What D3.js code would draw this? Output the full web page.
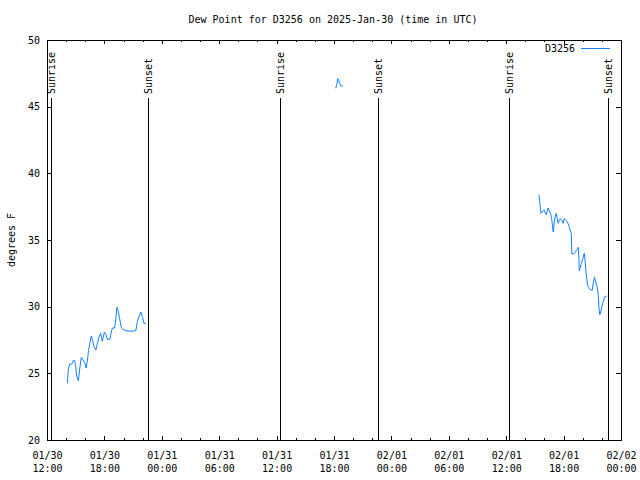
<!DOCTYPE html>
<html>
<head>
<meta charset="utf-8">
<script src="https://cdn.jsdelivr.net/npm/d3@7"></script>
<style>
  html, body { margin: 0; padding: 0; background: #fff; }
  svg text { font-family: "DejaVu Sans Mono", monospace; font-size: 10px; fill: #000; }
</style>
</head>
<body>
<svg id="chart" width="640" height="480"></svg>
<script>
// ---- data ----
const title = "Dew Point for D3256 on 2025-Jan-30 (time in UTC)";
const yLabel = "degrees F";
const seriesName = "D3256";

const times = [
  // 01/30 afternoon
  "2025-01-30 14:08","2025-01-30 14:14","2025-01-30 14:23","2025-01-30 14:35","2025-01-30 14:48",
  "2025-01-30 14:54","2025-01-30 15:00","2025-01-30 15:06","2025-01-30 15:17","2025-01-30 15:25",
  "2025-01-30 15:35","2025-01-30 15:46","2025-01-30 15:57","2025-01-30 16:05","2025-01-30 16:13",
  "2025-01-30 16:19","2025-01-30 16:28","2025-01-30 16:38","2025-01-30 16:45","2025-01-30 16:55",
  "2025-01-30 17:06","2025-01-30 17:16","2025-01-30 17:27","2025-01-30 17:37","2025-01-30 17:47",
  "2025-01-30 18:00","2025-01-30 18:09","2025-01-30 18:19","2025-01-30 18:34","2025-01-30 18:42",
  "2025-01-30 18:50","2025-01-30 19:03","2025-01-30 19:09","2025-01-30 19:18","2025-01-30 19:26",
  "2025-01-30 19:34","2025-01-30 19:47","2025-01-30 19:57","2025-01-30 20:14","2025-01-30 20:45",
  "2025-01-30 21:17","2025-01-30 21:27","2025-01-30 21:38","2025-01-30 21:49","2025-01-30 21:59",
  "2025-01-30 22:08","2025-01-30 22:20",
  // 01/31 short burst
  "2025-01-31 18:11","2025-01-31 18:16","2025-01-31 18:24","2025-01-31 18:30","2025-01-31 18:35",
  "2025-01-31 18:43","2025-01-31 18:55",
  // 02/01 afternoon
  "2025-02-01 15:25","2025-02-01 15:29","2025-02-01 15:35","2025-02-01 15:39","2025-02-01 15:46",
  "2025-02-01 15:52","2025-02-01 15:58","2025-02-01 16:04","2025-02-01 16:11","2025-02-01 16:17",
  "2025-02-01 16:23","2025-02-01 16:29","2025-02-01 16:38","2025-02-01 16:45","2025-02-01 16:51",
  "2025-02-01 16:55","2025-02-01 17:01","2025-02-01 17:07","2025-02-01 17:14","2025-02-01 17:20",
  "2025-02-01 17:26","2025-02-01 17:32","2025-02-01 17:39","2025-02-01 17:45","2025-02-01 17:51",
  "2025-02-01 17:57","2025-02-01 18:04","2025-02-01 18:10","2025-02-01 18:16","2025-02-01 18:23",
  "2025-02-01 18:29","2025-02-01 18:35","2025-02-01 18:41","2025-02-01 18:48","2025-02-01 18:52",
  "2025-02-01 19:00","2025-02-01 19:07","2025-02-01 19:13","2025-02-01 19:19","2025-02-01 19:26",
  "2025-02-01 19:32","2025-02-01 19:36","2025-02-01 19:38","2025-02-01 19:45","2025-02-01 19:51",
  "2025-02-01 19:57","2025-02-01 20:03","2025-02-01 20:09","2025-02-01 20:14","2025-02-01 20:18",
  "2025-02-01 20:25","2025-02-01 20:31","2025-02-01 20:37","2025-02-01 20:44","2025-02-01 20:50",
  "2025-02-01 21:00","2025-02-01 21:06","2025-02-01 21:13","2025-02-01 21:19","2025-02-01 21:25",
  "2025-02-01 21:32","2025-02-01 21:38","2025-02-01 21:42","2025-02-01 21:47","2025-02-01 21:53",
  "2025-02-01 21:59","2025-02-01 22:05","2025-02-01 22:12","2025-02-01 22:18","2025-02-01 22:31"
];

const dewPoint = [
  24.25,25.3,25.7,25.7,26.0,
  25.9,25.5,24.8,24.45,25.3,
  26.2,26.0,25.8,25.4,25.9,
  26.55,27.25,27.8,27.5,27.0,
  26.75,27.25,27.75,28.0,27.4,
  28.1,27.9,27.55,27.55,28.0,
  28.4,28.4,28.75,29.95,29.7,
  29.2,28.4,28.3,28.2,28.15,
  28.2,28.9,29.3,29.6,29.2,
  28.75,28.75,
  46.38,46.6,47.1,46.95,46.75,
  46.55,46.55,
  38.4,38.0,37.3,37.0,37.1,
  37.2,37.25,37.05,36.9,37.15,
  37.4,37.2,37.0,36.6,36.0,
  35.6,36.3,36.75,37.0,36.6,
  36.25,36.45,36.6,36.5,36.45,
  36.25,36.6,36.55,36.45,36.35,
  36.2,36.0,35.75,35.5,33.95,
  33.95,34.0,34.05,34.2,34.3,
  34.45,33.6,32.7,32.95,33.25,
  33.45,33.7,34.0,33.6,32.9,
  32.1,31.6,31.45,31.3,31.25,
  31.25,31.75,32.2,32.0,31.7,
  31.4,30.75,29.9,29.4,29.6,
  29.95,30.25,30.5,30.75,30.8
];

const sunTimes = [
  "2025-01-30 12:22","2025-01-30 22:33",
  "2025-01-31 12:21","2025-01-31 22:35",
  "2025-02-01 12:20","2025-02-01 22:41"
];
const sunLabels = ["Sunrise","Sunset","Sunrise","Sunset","Sunrise","Sunset"];

const xDomain = ["2025-01-30 12:00", "2025-02-02 00:00"];
const yDomain = [20, 50];
const yTickValues = [20, 25, 30, 35, 40, 45, 50];

// ---- drawing ----
const parse = d3.utcParse("%Y-%m-%d %H:%M");
const W = 640, H = 480;
const M = { left: 47, right: 19, top: 40, bottom: 40 };
const x0 = M.left, x1 = W - M.right, y0 = H - M.bottom, y1 = M.top;

const svg = d3.select("#chart");
svg.append("rect").attr("width", W).attr("height", H).attr("fill", "#fff");

const x = d3.scaleUtc().domain(xDomain.map(parse)).range([x0, x1]);
const y = d3.scaleLinear().domain(yDomain).range([y0, y1]);

const majorTicks = d3.utcHour.every(6).range(x.domain()[0], new Date(+x.domain()[1] + 1));
const minorTicks = d3.utcHour.every(2).range(x.domain()[0], new Date(+x.domain()[1] + 1))
  .filter(t => t.getUTCHours() % 6 !== 0);

const majorLen = 4, minorLen = 2;
const g = svg.append("g").attr("shape-rendering", "crispEdges");

// bottom axis ticks and labels
const bottomAxis = d3.axisBottom(x).tickValues(majorTicks).tickSize(0).tickPadding(0).tickFormat("");
const bAx = svg.append("g").attr("transform", `translate(0,${y0})`).call(bottomAxis);
bAx.select(".domain").remove();
const fmtDate = d3.utcFormat("%m/%d"), fmtTime = d3.utcFormat("%H:%M");
bAx.selectAll(".tick").each(function(d) {
  const t = d3.select(this);
  t.append("text").attr("y", 19).attr("text-anchor", "middle").attr("fill", "#000").text(fmtDate(d));
  t.append("text").attr("y", 32).attr("text-anchor", "middle").attr("fill", "#000").text(fmtTime(d));
});

// x tick marks (inward, mirrored at top)
majorTicks.forEach(t => {
  const px = Math.round(x(t)) + 0.5;
  g.append("line").attr("x1", px).attr("x2", px).attr("y1", y0).attr("y2", y0 - majorLen).attr("stroke", "#000");
  g.append("line").attr("x1", px).attr("x2", px).attr("y1", y1).attr("y2", y1 + majorLen).attr("stroke", "#000");
});
minorTicks.forEach(t => {
  const px = Math.round(x(t)) + 0.5;
  g.append("line").attr("x1", px).attr("x2", px).attr("y1", y0).attr("y2", y0 - minorLen).attr("stroke", "#000");
  g.append("line").attr("x1", px).attr("x2", px).attr("y1", y1).attr("y2", y1 + minorLen).attr("stroke", "#000");
});

// left axis labels
const leftAxis = d3.axisLeft(y).tickValues(yTickValues).tickSize(0).tickPadding(7);
const lAx = svg.append("g").attr("transform", `translate(${x0},0)`).call(leftAxis);
lAx.select(".domain").remove();
lAx.selectAll("text").attr("font-family", null).attr("font-size", null).attr("fill", "#000");

yTickValues.forEach(v => {
  const py = Math.round(y(v)) + 0.5;
  g.append("line").attr("x1", x0).attr("x2", x0 + 5).attr("y1", py).attr("y2", py).attr("stroke", "#000");
  g.append("line").attr("x1", x1).attr("x2", x1 - 5).attr("y1", py).attr("y2", py).attr("stroke", "#000");
});

// border
g.append("rect").attr("x", x0 + 0.5).attr("y", y1 + 0.5).attr("width", x1 - x0).attr("height", y0 - y1)
  .attr("fill", "none").attr("stroke", "#000");

// sunrise / sunset lines
sunTimes.forEach((s, i) => {
  const px = Math.round(x(parse(s))) + 0.5;
  g.append("line").attr("x1", px).attr("x2", px).attr("y1", 98).attr("y2", y0).attr("stroke", "#000");
  svg.append("text")
    .attr("transform", `translate(${px},94) rotate(-90)`)
    .attr("dy", "0.35em").attr("text-anchor", "start")
    .text(sunLabels[i]);
});

// data line, broken at gaps
const pts = times.map((t, i) => ({ t: parse(t), v: dewPoint[i] }));
const segments = [];
pts.forEach((p, i) => {
  if (i === 0 || (p.t - pts[i - 1].t) > 3600 * 1000) segments.push([]);
  segments[segments.length - 1].push(p);
});
const line = d3.line().x(d => x(d.t)).y(d => y(d.v));
svg.append("g").selectAll("path").data(segments).join("path")
  .attr("d", line).attr("fill", "none").attr("stroke", "#1080ff").attr("stroke-width", 1);

// legend
svg.append("text").attr("x", 575).attr("y", 52).attr("text-anchor", "end").text(seriesName);
svg.append("line").attr("x1", 581).attr("x2", 610).attr("y1", 48.5).attr("y2", 48.5)
  .attr("stroke", "#1080ff").attr("stroke-width", 1);

// title and y label
svg.append("text").attr("x", 333).attr("y", 23).attr("text-anchor", "middle").text(title);
svg.append("text").attr("transform", `translate(15,240) rotate(-90)`).attr("text-anchor", "middle").text(yLabel);
</script>
</body>
</html>
